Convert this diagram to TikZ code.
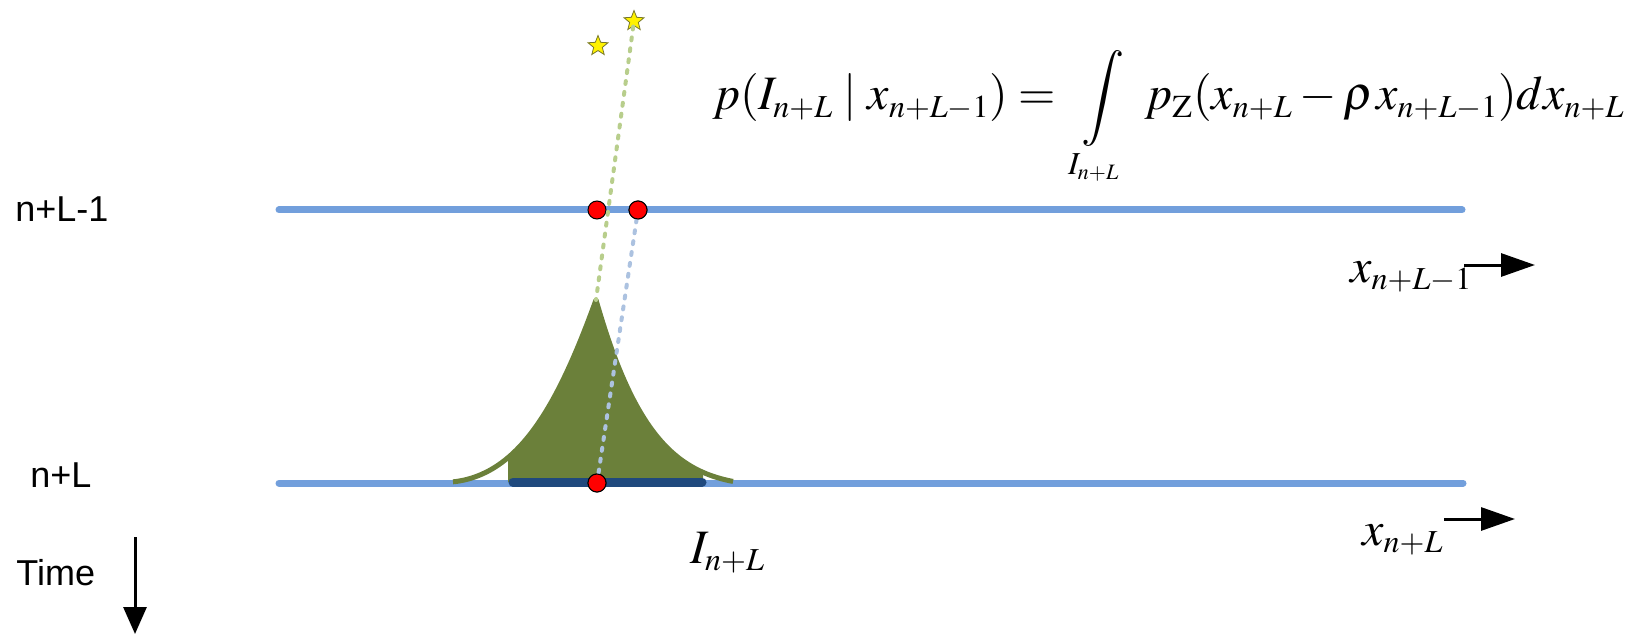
\documentclass[tikz,border=0pt]{standalone}
\usepackage{mathptmx}
\usepackage[no-math]{fontspec}
\newfontfamily\lblfont{Liberation Sans}
\usetikzlibrary{shapes.geometric,arrows.meta}
\DeclareMathSizes{24}{24}{16}{11}
\definecolor{lineBlue}{RGB}{114,159,220}
\definecolor{barBlue}{RGB}{31,73,125}
\definecolor{oliveGreen}{RGB}{107,128,58}
\definecolor{dashGreen}{RGB}{184,206,140}
\definecolor{dashBlue}{RGB}{172,194,224}
\definecolor{starEdge}{RGB}{120,120,40}

\begin{document}
\begin{tikzpicture}[x=0.5pt, y=-0.5pt,
    rowline/.style={lineBlue, line width=3.5pt, line cap=round},
    sample/.style={circle, fill=red, draw=black, line width=0.5pt, minimum size=9pt, inner sep=0pt},
    starnode/.style={star, star points=5, star point ratio=2.3, fill=yellow, draw=starEdge, line width=0.4pt, minimum size=10.5pt, inner sep=0pt},
    dashline/.style={line width=2pt, line cap=round, dash pattern=on 1.5pt off 4pt},
    rowlabel/.style={font=\lblfont\fontsize{18}{20}\selectfont, inner sep=0pt, anchor=base west},
    mathlabel/.style={font=\fontsize{24}{28}\selectfont, inner sep=0pt, anchor=base west},
    axisarrow/.style={line width=1.5pt, -{Triangle[length=17pt,width=11.5pt]}},
    declare function={densL(\t)=482-182*exp(-abs(\t)/66)*(1-(\t/146)^2)^1.5;
                      densR(\t)=482-182*exp(-abs(\t)/52)*(1-(\t/140)^2);}]
    \useasboundingbox (0,0) rectangle (1637,636);

    % time rows
    \coordinate (topL) at (279,210);
    \coordinate (topR) at (1462,210);
    \coordinate (botL) at (279,483);
    \coordinate (botR) at (1463,483);
    \draw[rowline] (topL) -- (topR);
    \draw[rowline] (botL) -- (botR);

    % density over the interval
    \fill[oliveGreen] plot[domain=-88:0, samples=40] ({596+\x},{densL(\x)})
        -- plot[domain=0:107, samples=40] ({596+\x},{densR(\x)}) -- (703,482) -- (508,482) -- cycle;
    \draw[oliveGreen, line width=2.5pt, line join=round] plot[domain=-143:0, samples=60] ({596+\x},{densL(\x)})
        -- plot[domain=0:137, samples=60] ({596+\x},{densR(\x)});
    \coordinate (peak) at (596,300);

    % interval I
    \coordinate (ivL) at (513,482);
    \coordinate (ivR) at (702,482);
    \draw[barBlue, line width=4.5pt, line cap=round] (ivL) -- (ivR);

    % stars and samples
    \node[starnode] (starA) at (598,46) {};
    \node[starnode] (starB) at (634,21) {};
    \node[sample] (dotA) at (597,210) {};
    \node[sample] (dotB) at (638,210) {};
    \node[sample] (dotC) at (597,483) {};

    \draw[dashline, dashGreen] (starB) -- (peak);
    \draw[dashline, dashBlue] (dotB) -- (dotC);
    \node[sample] at (dotB) {};
    \node[sample] at (dotC) {};

    % labels
    \node[rowlabel] (rowTop) at (15,222) {n+L-1};
    \node[rowlabel] (rowBot) at (30,487) {n+L};
    \node[rowlabel] (timeLbl) at (16,585) {Time};
    \coordinate (timeA) at (135,537);
    \coordinate (timeB) at (135,634);
    \draw[axisarrow, -{Triangle[length=13.5pt,width=11.5pt]}] (timeA) -- (timeB);

    \node[mathlabel] (xTop) at (1350,282) {$x_{n+L-1}$};
    \coordinate (arrTopA) at (1464,265);
    \coordinate (arrTopB) at (1535,265);
    \draw[axisarrow] (arrTopA) -- (arrTopB);
    \node[mathlabel] (xBot) at (1362,545) {$x_{n+L}$};
    \coordinate (arrBotA) at (1444,519);
    \coordinate (arrBotB) at (1515,519);
    \draw[axisarrow] (arrBotA) -- (arrBotB);

    \node[mathlabel] (ivLbl) at (690,563) {$I_{n+L}$};
    \node[mathlabel] (formula) at (712,110)
        {$\displaystyle p(I_{n+L}\;|\;x_{n+L-1}) = \;\int\limits_{I_{n+L}}\; p_{\mathrm{Z}}(x_{n+L}-\rho\mkern1mu x_{n+L-1})dx_{n+L}$};
\end{tikzpicture}
\end{document}
